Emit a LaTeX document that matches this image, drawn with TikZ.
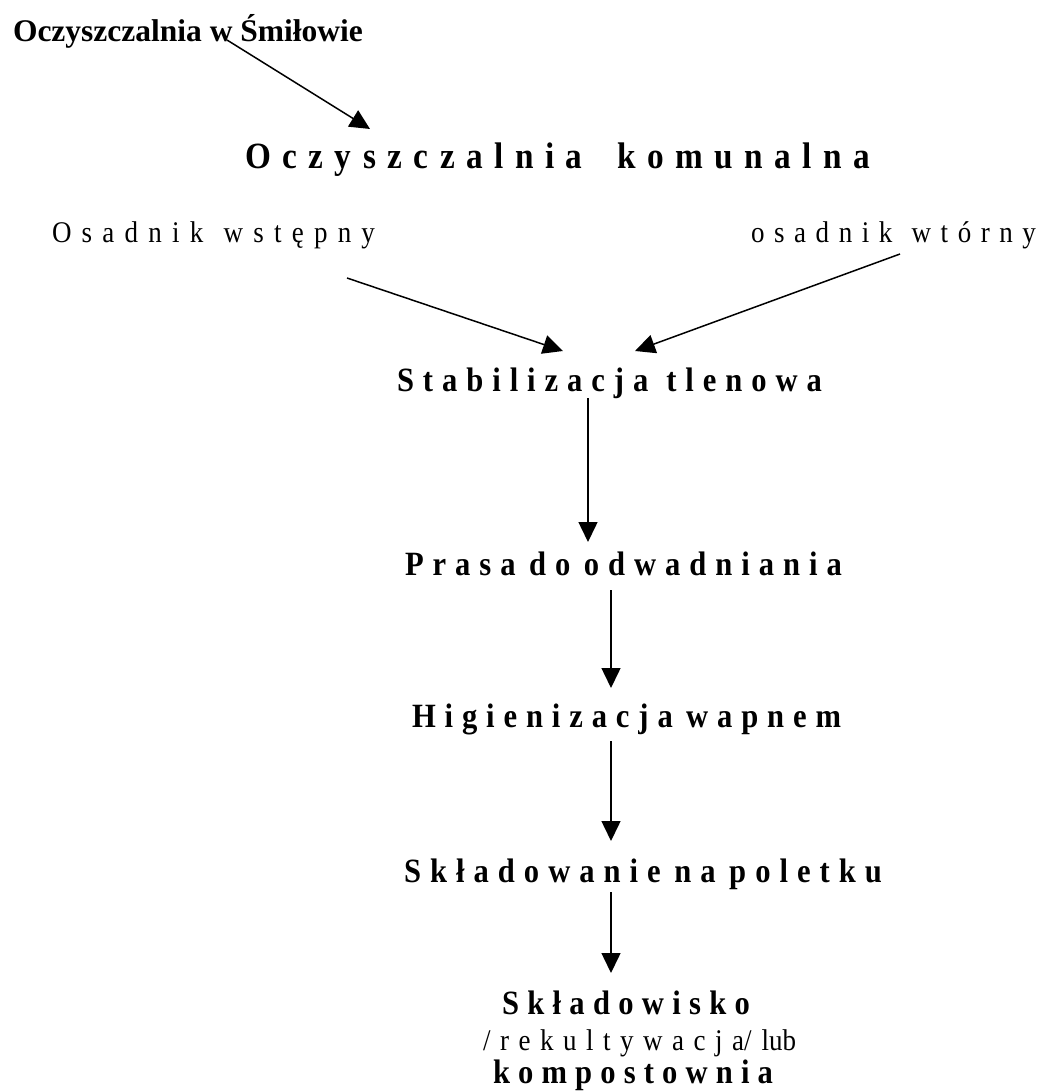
\documentclass[tikz,border=0pt]{standalone}
\usepackage{fontspec}
\setmainfont{Liberation Serif}
\newfontfamily\condfont[FakeStretch=0.9]{Liberation Serif}
\usetikzlibrary{arrows.meta}
\ExplSyntaxOn
\NewDocumentCommand \spreadto { m m }
  { \makebox[#1][s]{ \tl_map_inline:nn {#2} { ##1 \hfil } \unskip } }
\ExplSyntaxOff
\newcommand\wgA{\hskip 0pt plus -0.5fil\relax}
\newcommand\wgB{\relax}
\newcommand\wgC{\hfil}
\tikzset{
  txt/.style={anchor=base west, inner sep=0pt, outer sep=0pt},
  big/.style={font=\condfont\bfseries\fontsize{37}{40}\selectfont},
  bold/.style={font=\condfont\bfseries\fontsize{34}{38}\selectfont},
  reg/.style={font=\condfont\fontsize{30}{32}\selectfont},
  arr/.style={line width=1.5pt, -{Triangle[length=20pt,width=19pt]}}
}
\begin{document}
\begin{tikzpicture}[x=1pt,y=-1pt]
\useasboundingbox (0,0) rectangle (1048,1091);
\node[txt, font=\bfseries\fontsize{31.5}{36}\selectfont] (title) at (13,42) {Oczyszczalnia w Śmiłowie};
\node[txt, big] (komunalna) at (245,169) {\spreadto{625pt}{Oczyszczalnia\wgC komunalna}};
\node[txt, reg] (osw) at (52,242) {\spreadto{323pt}{Osadnik\wgB wstępny}};
\node[txt, reg] (owt) at (751,242) {\spreadto{285pt}{osadnik\wgB wtórny}};
\node[txt, bold] (stab) at (397,391) {\spreadto{425pt}{Stabilizacja\wgB tlenowa}};
\node[txt, bold] (prasa) at (405,575) {\spreadto{437pt}{Prasa\wgA do\wgA odwadniania}};
\node[txt, bold] (hig) at (412,727) {\spreadto{429pt}{Higienizacja\wgA wapnem}};
\node[txt, bold] (skl) at (404,882) {\spreadto{478pt}{Składowanie\wgA na\wgA poletku}};
\node[txt, bold] (skw) at (502,1014) {\spreadto{248pt}{Składowisko}};
\node[txt, reg] (rek) at (483,1050) {\spreadto{261pt}{/rekultywacja}/\hspace{10pt}lub};
\node[txt, bold] (kmp) at (493,1083) {\spreadto{280pt}{kompostownia}};

\draw[arr] ([xshift=214pt,yshift=2pt]title.base west) -- ([xshift=125pt,yshift=40pt]komunalna.base west);
\draw[arr] ([xshift=295pt,yshift=-36pt]osw.base west) -- ([xshift=166pt,yshift=40pt]stab.base west);
\draw[arr] ([xshift=149pt,yshift=-12pt]owt.base west) -- ([xshift=238pt,yshift=40pt]stab.base west);
\draw[arr] ([xshift=191pt,yshift=-7pt]stab.base west) -- ([xshift=183pt,yshift=33pt]prasa.base west);
\draw[arr] ([xshift=206pt,yshift=-15pt]prasa.base west) -- ([xshift=199pt,yshift=39pt]hig.base west);
\draw[arr] ([xshift=199pt,yshift=-14pt]hig.base west) -- ([xshift=207pt,yshift=41pt]skl.base west);
\draw[arr] ([xshift=207pt,yshift=-10pt]skl.base west) -- ([xshift=109pt,yshift=41pt]skw.base west);
\end{tikzpicture}
\end{document}
